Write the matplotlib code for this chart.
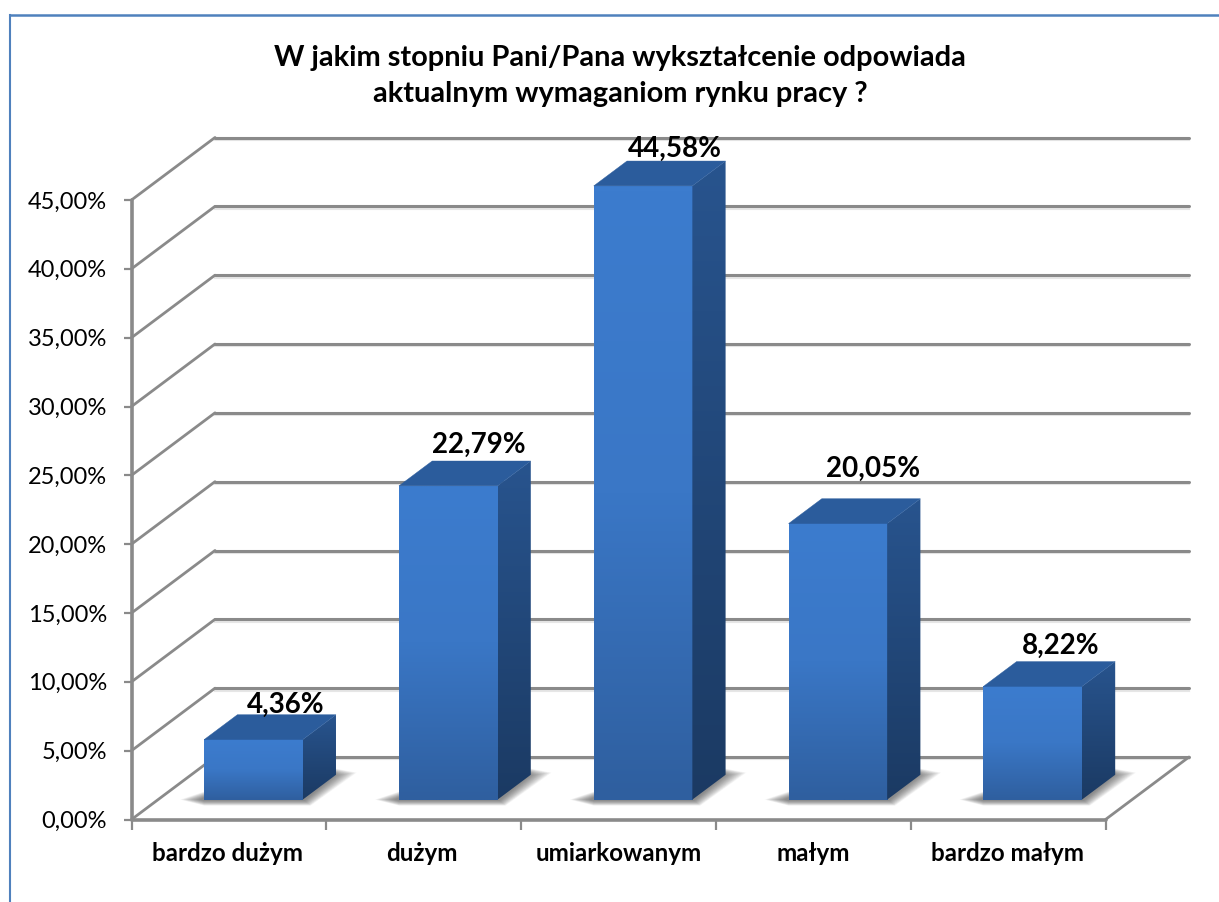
import numpy as np
import matplotlib
matplotlib.use("Agg")
import matplotlib.pyplot as plt
from matplotlib.patches import Polygon
from matplotlib.colors import LinearSegmentedColormap
from matplotlib.lines import Line2D

categories = ["bardzo dużym", "dużym", "umiarkowanym", "małym", "bardzo małym"]
values = [4.36, 22.79, 44.58, 20.05, 8.22]
value_labels = ["4,36%", "22,79%", "44,58%", "20,05%", "8,22%"]
y_ticks = [0, 5, 10, 15, 20, 25, 30, 35, 40, 45]
y_tick_labels = ["0,00%", "5,00%", "10,00%", "15,00%", "20,00%", "25,00%", "30,00%", "35,00%", "40,00%", "45,00%"]
title_text = "W jakim stopniu Pani/Pana wykształcenie odpowiada\naktualnym wymaganiom rynku pracy ?"
# label nudges in pixels
cat_dx = [-1, -2, 0, 0, -1]
val_dx = [-1, -3, -2, 1, -6]
val_dy = [-8, -2, -6, 12, -2]

W, H = 1219, 902
plt.rcParams['font.family'] = ['Lato', 'DejaVu Sans']
fig = plt.figure(figsize=(W / 100, H / 100), dpi=100, facecolor="white")

L, R, B, T = 131.5, 1105.5, 819.5, 200.0
ax = fig.add_axes([L / W, 1 - B / H, (R - L) / W, (B - T) / H])
ax.set_xlim(0, 5)
ax.set_ylim(0, 45)
ax.patch.set_alpha(0)
for s in ax.spines.values():
    s.set_visible(False)

px = 5 / (R - L)
py = 45 / (B - T)
DX, DY = 83.5 * px, 62.5 * py
PT = 72 / 100


def depth(x, y, d):
    return (x + d * DX, y + d * DY)


GRID = "#8a8a8a"
line_kw = dict(color=GRID, solid_capstyle="round", clip_on=False)

for t in y_ticks:
    ax.plot([0, DX], [t, t + DY], lw=2.0, zorder=1, **line_kw)
    ax.plot([DX, 5 + DX], [t + DY, t + DY], lw=2.2, zorder=1, **line_kw)
    ax.plot([DX, 5 + DX], [t + DY - 2.4 * py] * 2, lw=1.5, color="#e6e6e6", zorder=0.9, clip_on=False)

ax.plot([0, 0], [0, 45], lw=2.6, zorder=2, **line_kw)
ax.plot([0, 5], [0, 0], lw=2.6, zorder=2, **line_kw)
ax.plot([5, 5 + DX], [0, DY], lw=2.0, zorder=2, **line_kw)

ax.set_xticks(range(6))
ax.set_xticklabels([])
ax.set_yticks(y_ticks)
ax.set_yticklabels(y_tick_labels, fontsize=17, color="black")
ax.tick_params(axis="y", length=6, width=1.6, color=GRID, pad=11.5)
ax.tick_params(axis="x", length=7, width=1.6, color=GRID)
for i, c in enumerate(categories):
    ax.annotate(c, xy=(i + 0.5, 0), xytext=(cat_dx[i] * PT, -34 * PT), textcoords="offset points",
                ha="center", va="center", fontsize=17.4, fontweight="bold", annotation_clip=False)

front_cmap = LinearSegmentedColormap.from_list("f", ["#3c7cce", "#3a77c6", "#2f5f9f"])
side_cmap = LinearSegmentedColormap.from_list("s", ["#28548e", "#1b3a63"])

bar_half = 49.3 * px
shift = -2 * px
d0, d1 = 0.318, 0.716

for i, v in enumerate(values):
    xc = i + 0.5 + shift
    xl, xr = xc - bar_half, xc + bar_half
    bx, by = depth(xr, 0, d0)
    lx = depth(xl, 0, d0)[0]
    n = 20
    for k in range(n):
        t = k / (n - 1)
        sh = Polygon([
            (lx - (24 - 20 * t) * px, by),
            (lx, by - (6 - 5 * t) * py),
            (bx + (8 - 6 * t) * px, by - (6 - 5 * t) * py),
            (bx + (54 - 22 * t) * px, by + (27 - 3 * t) * py),
            (bx + 33 * px, by + (31 - 5 * t) * py),
            (bx, by + 10 * py),
            (lx, by + (8 - 6 * t) * py),
        ], closed=True, fc="#3a3a3a", ec="none", alpha=0.04, zorder=3, clip_on=False)
        ax.add_patch(sh)

    x0, y0 = depth(xl, 0, d0)
    x1, y1 = depth(xr, v, d0)
    ax.imshow(np.linspace(1, 0, 128).reshape(-1, 1), extent=[x0, x1, y0, y1], origin="lower",
              cmap=front_cmap, aspect="auto", vmin=0, vmax=1, zorder=5, clip_on=False,
              interpolation="bilinear")
    side = Polygon([depth(xr, 0, d0), depth(xr, 0, d1), depth(xr, v, d1), depth(xr, v, d0)],
                   closed=True, fc="none", ec="none", clip_on=False)
    ax.add_patch(side)
    sx0, sx1 = depth(xr, 0, d0)[0], depth(xr, 0, d1)[0]
    sy0, sy1 = depth(xr, 0, d0)[1], depth(xr, v, d1)[1]
    im = ax.imshow(np.linspace(1, 0, 128).reshape(-1, 1), extent=[sx0, sx1, sy0, sy1], origin="lower",
                   cmap=side_cmap, aspect="auto", vmin=0, vmax=1, zorder=5)
    im.set_clip_path(side)
    im.set_clip_box(fig.bbox)
    ax.add_patch(Polygon([depth(xl, v, d0), depth(xr, v, d0), depth(xr, v, d1), depth(xl, v, d1)],
                         closed=True, fc="#2b5c9c", ec="#2b5c9c", lw=0.3, zorder=5, clip_on=False))
    xt, yt = depth(xc, v, d1)
    ax.annotate(value_labels[i], xy=(xt, yt), xytext=((val_dx[i] + 0.5) * PT, (18 + val_dy[i]) * PT),
                textcoords="offset points", ha="center", va="center", fontsize=20, fontweight="bold",
                zorder=6, annotation_clip=False)

ax.set_xlim(0, 5)
ax.set_ylim(0, 45)

fig.text(620 / W, 1 - 76 / H, title_text, ha="center", va="center", fontsize=20.9, fontweight="bold",
         linespacing=1.5)

bc = "#4f81bd"
fig.add_artist(Line2D([9.5 / W, 9.5 / W], [0, 1 - 15 / H], color=bc, lw=1.5))
fig.add_artist(Line2D([9.5 / W, 1], [1 - 15 / H, 1 - 15 / H], color=bc, lw=1.8))

fig.savefig("out.png", dpi=100, facecolor="white")
